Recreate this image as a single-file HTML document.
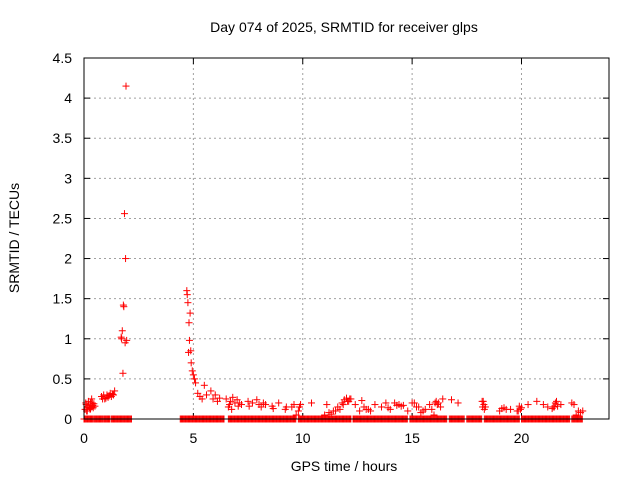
<!DOCTYPE html>
<html><head><meta charset="utf-8"><style>
body{margin:0;background:#fff;}
svg{display:block;font-family:"Liberation Sans",sans-serif;}
</style></head><body>
<svg id="chart" width="640" height="480"></svg>
<script>
const xTicks=[0,5,10,15,20];
const yTicks=[0,0.5,1,1.5,2,2.5,3,3.5,4,4.5];
const yTickLabels=["0","0.5","1","1.5","2","2.5","3","3.5","4","4.5"];
// periods where SRMTID is zero (hours)
const zeroStart=[0.0,0.45,0.9,1.25,4.4,6.6,9.8,12.3,14.9,16.7,17.5,18.3,20.0,22.3];
const zeroEnd=[0.4,0.85,1.2,2.2,6.4,9.7,12.2,14.8,16.6,17.4,18.2,19.9,22.2,22.8];
const ptTimes=[0.05,0.1,0.15,0.2,0.25,0.3,0.35,0.4,0.45,0.5,0.15,0.3,0.8,0.9,1.0,1.1,1.2,1.3,1.4,0.95,1.15,
0.08,0.12,0.22,0.28,0.33,0.38,0.42,0.85,1.05,1.25,1.35,
1.7,1.72,1.75,1.78,1.8,1.82,1.85,1.88,1.9,1.92,1.95,
4.7,4.72,4.75,4.78,4.8,4.82,4.85,4.88,4.9,4.95,5.0,5.05,5.1,5.3,5.5,5.6,5.8,5.9,6.0,6.1,6.2,5.2,5.4,
6.5,6.6,6.7,6.8,6.9,7.0,7.2,7.5,7.7,7.9,8.1,8.3,8.6,8.9,9.2,9.5,9.7,9.8,9.9,10.4,
6.65,6.75,7.05,7.1,7.55,8.0,8.2,8.65,9.25,9.6,9.85,
11.0,11.2,11.4,11.6,11.8,11.9,12.0,12.1,12.2,12.4,12.6,12.8,13.0,13.3,13.6,13.8,14.0,14.2,14.4,14.6,14.8,15.0,15.2,15.4,15.6,15.8,16.0,16.1,16.2,16.4,16.8,17.1,
11.1,11.3,11.5,11.7,11.85,12.05,12.15,12.7,12.9,13.1,13.9,14.3,14.5,15.1,15.3,15.5,15.9,16.05,16.15,16.3,
18.2,18.25,18.3,18.35,19.0,19.2,19.5,19.8,19.9,20.0,20.3,20.7,21.0,21.2,21.4,21.5,21.6,21.8,22.3,22.5,22.7,22.8,
18.22,18.28,19.1,19.3,19.85,19.95,21.45,21.55,21.65,22.4,22.6];
const ptValues=[0.12,0.18,0.15,0.22,0.14,0.2,0.25,0.17,0.19,0.16,0.1,0.13,0.28,0.3,0.26,0.27,0.32,0.31,0.35,0.25,0.29,
0.2,0.1,0.17,0.12,0.15,0.2,0.14,0.25,0.3,0.28,0.3,
1.02,1.0,1.1,0.57,1.42,1.4,2.56,0.95,2.0,4.15,0.98,
1.6,1.55,1.45,0.83,1.2,0.98,1.32,0.85,0.7,0.6,0.55,0.5,0.45,0.28,0.42,0.3,0.35,0.25,0.3,0.22,0.26,0.32,0.25,
0.25,0.15,0.22,0.27,0.2,0.24,0.18,0.22,0.2,0.24,0.15,0.18,0.16,0.2,0.12,0.15,0.05,0.1,0.18,0.2,
0.18,0.12,0.16,0.2,0.16,0.18,0.2,0.13,0.15,0.18,0.15,
0.05,0.08,0.1,0.15,0.2,0.24,0.26,0.22,0.25,0.18,0.1,0.15,0.12,0.18,0.15,0.2,0.12,0.2,0.18,0.17,0.1,0.2,0.15,0.08,0.12,0.18,0.05,0.22,0.2,0.25,0.24,0.2,0.18,
0.06,0.1,0.12,0.18,0.22,0.25,0.23,0.12,0.1,0.14,0.17,0.16,0.2,0.15,0.1,0.12,0.2,0.18,0.15,0.22,
0.22,0.12,0.15,0.1,0.14,0.12,0.1,0.16,0.14,0.18,0.22,0.18,0.15,0.13,0.15,0.22,0.18,0.2,0.05,0.08,0.1,0.15,
0.18,0.13,0.12,0.1,0.12,0.15,0.2,0.16,0.18,0.1,0.12];
const L=84,R=609,T=58,B=419,XMAX=24,YMAX=4.5;
const xs=t=>L+t/XMAX*(R-L), ys=v=>B-v/YMAX*(B-T);
const svg=document.getElementById('chart');const NS="http://www.w3.org/2000/svg";
function mk(tag,attrs,parent){const e=document.createElementNS(NS,tag);for(const k in attrs)e.setAttribute(k,attrs[k]);(parent||svg).appendChild(e);return e;}
function txt(x,y,s,anchor,extra){const e=mk('text',Object.assign({x:x,y:y,'font-size':14,fill:'#000','text-anchor':anchor},extra||{}));e.textContent=s;return e;}
let t=txt(344,32,"Day 074 of 2025, SRMTID for receiver glps","middle");


yTicks.forEach((v,i)=>{const y=ys(v);
 if(i>0&&i<yTicks.length-1){const g=mk('line',{x1:L,x2:R,y1:y,y2:y,stroke:'#a0a0a0','stroke-dasharray':'2,3'});}
 mk('line',{x1:L,x2:L+6,y1:y,y2:y,stroke:'#000'});mk('line',{x1:R,x2:R-6,y1:y,y2:y,stroke:'#000'});
 const l=txt(L-12,y+5,yTickLabels[i],'end');});
xTicks.forEach(v=>{const x=xs(v);
 if(v>0){const g=mk('line',{x1:x,x2:x,y1:T,y2:B,stroke:'#a0a0a0','stroke-dasharray':'2,3'});}
 mk('line',{x1:x,x2:x,y1:B,y2:B-6,stroke:'#000'});mk('line',{x1:x,x2:x,y1:T,y2:T+6,stroke:'#000'});
 const l=txt(x,B+24,String(v),'middle');});
const g=mk('g',{stroke:'#f00','stroke-width':1});


function cross(x,y){mk('line',{x1:x-3.5,x2:x+3.5,y1:y,y2:y},g);mk('line',{x1:x,x2:x,y1:y-3.5,y2:y+3.5},g);}
zeroStart.forEach((s,i)=>{for(let h=s;h<=zeroEnd[i]+1e-9;h+=0.04)cross(xs(h),ys(0));});
ptTimes.forEach((h,i)=>cross(xs(h),ys(ptValues[i])));
const f=mk('rect',{x:L,y:T,width:R-L,height:B-T,fill:'none',stroke:'#000'});


let xl=txt(344,471,"GPS time / hours","middle");


let yl=txt(0,0,"SRMTID / TECUs","middle",{transform:"translate(19,238) rotate(-90)"});


</script>
</body></html>
